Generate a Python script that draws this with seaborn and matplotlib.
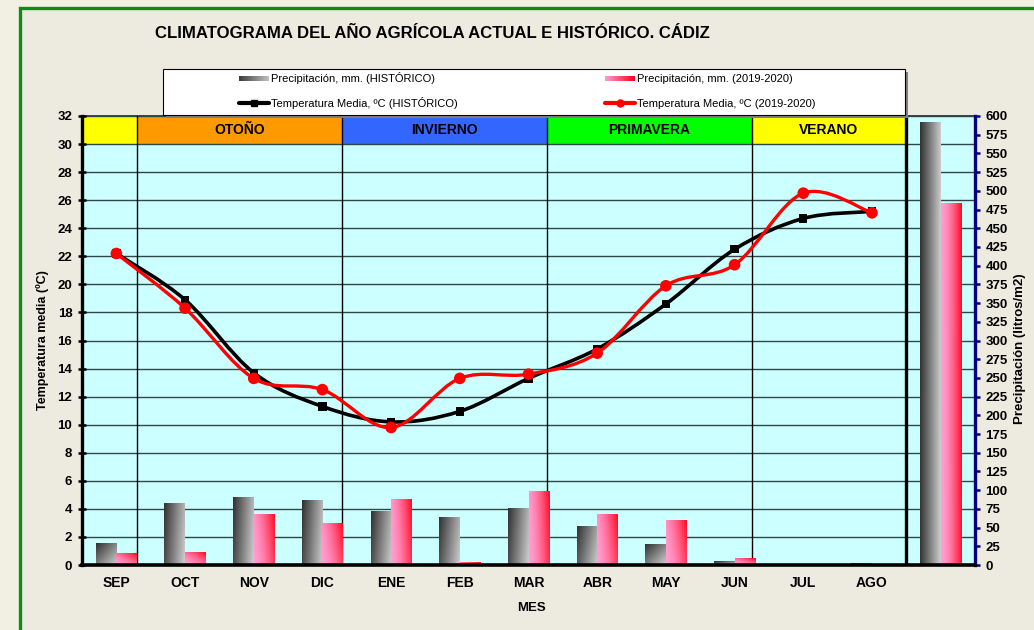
import matplotlib
matplotlib.use("agg")
import matplotlib.pyplot as plt
from matplotlib.patches import Rectangle, PathPatch
from matplotlib.path import Path
from matplotlib.lines import Line2D
from matplotlib.legend_handler import HandlerBase
import matplotlib.colors as mcolors
import numpy as np
import pandas as pd
import seaborn as sns

# ---- data ----
meses = ['SEP', 'OCT', 'NOV', 'DIC', 'ENE', 'FEB', 'MAR', 'ABR', 'MAY', 'JUN', 'JUL', 'AGO']
tempHist = [22.2, 18.9, 13.7, 11.3, 10.2, 10.95, 13.3, 15.4, 18.6, 22.5, 24.7, 25.2]
tempActual = [22.2, 18.3, 13.3, 12.5, 9.8, 13.3, 13.6, 15.1, 19.9, 21.4, 26.5, 25.1]
precHist = [29, 82, 90, 86, 72, 64, 76, 51, 28, 5, 0, 2.5]
precActual = [15, 17, 67, 56, 88, 3, 98, 67, 59, 9, 0, 0]
precHistTotal = 591
precActualTotal = 483
estaciones = ['', 'OTOÑO', 'INVIERNO', 'PRIMAVERA', 'VERANO']
coloresEstacion = ['#FFFF00', '#FF9900', '#3366FF', '#00FF00', '#FFFF00']
limitesEstacion = [-0.5, 0.3, 3.28, 6.27, 9.25, 11.5]

labHistBar = 'Precipitación, mm. (HISTÓRICO)'
labActBar = 'Precipitación, mm. (2019-2020)'
labHistLin = 'Temperatura Media, ºC (HISTÓRICO)'
labActLin = 'Temperatura Media, ºC (2019-2020)'

sns.set_style("white")
plt.rcParams['font.family'] = ['Liberation Sans', 'DejaVu Sans']
plt.rcParams['text.color'] = 'black'
plt.rcParams['axes.labelcolor'] = 'black'
plt.rcParams['xtick.color'] = 'black'
plt.rcParams['ytick.color'] = 'black'

W, H = 1034, 630
fig = plt.figure(figsize=(W / 100, H / 100), dpi=100)
fig.patch.set_facecolor('#F1F0E2')
fig.patches.append(Rectangle((19.5 / W, -0.1), 1.2, 1.1 - 8.5 / H + 0.0,
                             transform=fig.transFigure, facecolor='#EDEAE0',
                             edgecolor='#118A1B', lw=2.4, zorder=-5))

left, right, top, bottom = 82 / W, 975 / W, 1 - 116 / H, 1 - 565 / H
ax = fig.add_axes([left, bottom, right - left, top - bottom])
ax.set_facecolor('#CCFFFF')
ax2 = ax.twinx()
ax3 = ax.twinx()

# ---- background: grid, seasons ----
ax.set_ylim(0, 32)
ax.set_yticks(range(0, 33, 2))
ax.set_axisbelow(False)
ax.grid(axis='y', color='#2E4747', lw=1.0)
ax.grid(axis='x', visible=False)
for i, (nombre, col) in enumerate(zip(estaciones, coloresEstacion)):
    x0, x1 = limitesEstacion[i], limitesEstacion[i + 1]
    ax.add_patch(Rectangle((x0, 30), x1 - x0, 2, facecolor=col, edgecolor='none', zorder=1))
    if nombre:
        ax.text((x0 + x1) / 2, 31, nombre, ha='center', va='center',
                fontsize=10, fontweight='bold', zorder=3)
for xl in limitesEstacion[1:-1]:
    ax.axvline(xl, color='black', lw=1.0, zorder=3)
ax.axvline(11.5, color='black', lw=2.4, zorder=3)

# ---- precipitation bars ----
categorias = meses + ['TOTAL']
df = pd.DataFrame({
    'mes': categorias * 2,
    'serie': ['hist'] * 13 + ['act'] * 13,
    'prec': precHist + [precHistTotal] + precActual + [precActualTotal],
})
pal = {'hist': '#808080', 'act': '#FF6699'}
sns.barplot(data=df, x='mes', y='prec', hue='serie', order=categorias,
            hue_order=['hist', 'act'], palette=pal, width=0.6, dodge=True,
            legend=False, ax=ax2, saturation=1, edgecolor='none')
ax2.set_ylim(0, 600)
ax2.set_xlim(-0.5, 12.5)
fig.canvas.draw()

dark, light = np.array([0.20, 0.20, 0.20]), np.array([0.80, 0.80, 0.80])
pink, red = np.array([1.0, 0.62, 0.82]), np.array([1.0, 0.05, 0.15])
for p in list(ax2.patches):
    h = p.get_height()
    if h <= 0:
        p.set_visible(False)
        continue
    x0, w = p.get_x(), p.get_width()
    (px0, py0), (px1, py1) = ax2.transData.transform([(x0, 0), (x0 + w, h)])
    wpx, hpx = abs(px1 - px0), abs(py1 - py0)
    nx, ny = max(2, int(wpx)), max(2, int(hpx))
    wt = min(1.0, wpx / max(hpx, 1))
    xf = np.linspace(0, 1, nx)[None, :]
    yf = np.linspace(0, 1, ny)[:, None]  # 0 at top
    fc = mcolors.to_hex(p.get_facecolor())
    if fc.lower() == '#808080':
        s = (1 - 0.5 * wt) * (1 - xf) + 0.5 * wt * (1 - yf)
        img = light + s[..., None] * (dark - light)
    else:
        s = (1 - 0.5 * wt) * xf + 0.5 * wt * (1 - yf)
        s = np.clip(s, 0, 1) ** 1.6
        img = pink + s[..., None] * (red - pink)
    ax2.imshow(np.clip(img, 0, 1), extent=(x0, x0 + w, 0, h), origin='upper',
               aspect='auto', interpolation='bilinear', zorder=2)
    p.set_visible(False)
ax2.set_ylim(0, 600)
ax2.set_xlim(-0.5, 12.5)

# ---- temperature lines (smoothed like the spreadsheet) ----
def smoothPath(ys):
    pts = np.column_stack([np.arange(len(ys)), ys]).astype(float)
    ext = np.vstack([pts[0], pts, pts[-1]])
    verts, codes = [pts[0]], [Path.MOVETO]
    for i in range(len(pts) - 1):
        p0, p1, p2, p3 = ext[i], ext[i + 1], ext[i + 2], ext[i + 3]
        verts += [p1 + (p2 - p0) / 6, p2 - (p3 - p1) / 6, p2]
        codes += [Path.CURVE4] * 3
    return Path(verts, codes)

ax3.set_ylim(0, 32)
ax3.add_patch(PathPatch(smoothPath(tempHist), fill=False, edgecolor='black',
                        lw=2.6, zorder=3, capstyle='round', joinstyle='round'))
sns.scatterplot(x=np.arange(12), y=tempHist, marker='s', s=36, color='black',
                edgecolor='none', zorder=4, ax=ax3)
ax3.add_patch(PathPatch(smoothPath(tempActual), fill=False, edgecolor='#FF0000',
                        lw=2.4, zorder=5, capstyle='round', joinstyle='round'))
sns.scatterplot(x=np.arange(12), y=tempActual, marker='o', s=70, color='#FF0000',
                edgecolor='none', zorder=6, ax=ax3)
ax3.set_ylim(0, 32)
ax3.set_xlim(-0.5, 12.5)
ax3.yaxis.set_visible(False)
ax3.set_ylabel('')

# ---- axes styling ----
for a in (ax, ax2, ax3):
    for s in a.spines.values():
        s.set_visible(False)
ax.spines['left'].set_visible(True)
ax.spines['left'].set_linewidth(2.4)
ax.spines['left'].set_color('black')
ax.spines['top'].set_visible(True)
ax.spines['top'].set_linewidth(1.2)
ax.spines['top'].set_color('#222222')
ax3.spines['bottom'].set_visible(True)
ax3.spines['bottom'].set_linewidth(2.6)
ax3.spines['bottom'].set_color('black')
ax2.spines['right'].set_visible(True)
ax2.spines['right'].set_linewidth(2.4)
ax2.spines['right'].set_color('#000080')

ax.set_xlim(-0.5, 12.5)
ax.set_xticks(range(13))
ax.set_xticklabels(meses + [''], fontsize=10, fontweight='bold')
ax.set_xticks(np.arange(-0.5, 13, 1), minor=True)
ax.tick_params(axis='x', which='major', length=0, pad=8)
ax.tick_params(axis='x', which='minor', length=8, width=2.4, direction='inout', color='black')
ax.tick_params(axis='y', left=True, length=6, width=1.8, direction='inout', color='black', pad=4)
for t in ax.get_yticklabels():
    t.set_fontweight('bold')
    t.set_fontsize(9.5)

ax2.set_yticks(range(0, 601, 25))
ax2.set_ylabel('')
ax2.set_xlabel('')
ax2.tick_params(axis='y', right=True, length=3.5, width=1.8, direction='out', color='#000080', pad=4)
for t in ax2.get_yticklabels():
    t.set_fontweight('bold')
    t.set_fontsize(9.5)

ax.set_ylabel('Temperatura media (ºC)', fontsize=9, fontweight='bold')
ax.yaxis.set_label_coords((49 - 82) / 893, 0.5)
ax.set_xlabel('MES', fontsize=9.5, fontweight='bold')
ax.xaxis.set_label_coords(0.503, -(602 - 565) / 449)
ax2.set_ylabel('Precipitación (litros/m2)', fontsize=9.5, fontweight='bold')
ax2.yaxis.set_label_coords((1014 - 82) / 893, (565 - 349) / 449)

# ---- title ----
fig.text(432 / W, 1 - 33 / H, 'CLIMATOGRAMA DEL AÑO AGRÍCOLA ACTUAL E HISTÓRICO. CÁDIZ',
         ha='center', va='center', fontsize=12.1, fontweight='bold')

# ---- legend ----
fig.patches.append(Rectangle((166 / W, 1 - 118 / H), 742 / W, 46 / H, transform=fig.transFigure,
                             facecolor='#808080', edgecolor='none', zorder=1))
fig.patches.append(Rectangle((163 / W, 1 - 115 / H), 742 / W, 46 / H, transform=fig.transFigure,
                             facecolor='white', edgecolor='black', lw=0.8, zorder=2))


class GradHandler(HandlerBase):
    def __init__(self, c0, c1):
        super().__init__()
        self.c0, self.c1 = np.array(c0), np.array(c1)

    def create_artists(self, legend, orig_handle, xdescent, ydescent, width, height, fontsize, trans):
        n = 24
        hh = height * 0.6
        y0 = -ydescent + (height - hh) / 2
        arts = []
        for i in range(n):
            c = self.c0 + (i / (n - 1)) * (self.c1 - self.c0)
            arts.append(Rectangle((-xdescent + width * i / n, y0), width / n * 1.1, hh,
                                  facecolor=c, edgecolor='none', transform=trans))
        return arts


hBarHist = Rectangle((0, 0), 1, 1)
hBarAct = Rectangle((0, 0), 1, 1)
hLinHist = Line2D([], [], color='black', lw=3, marker='s', ms=5)
hLinAct = Line2D([], [], color='#FF0000', lw=3, marker='o', ms=5)
legOpts = dict(loc='upper left', frameon=False, fontsize=8, handlelength=2.7,
               handletextpad=0.15, borderpad=0.3, borderaxespad=0, numpoints=1)
leg1 = fig.legend([hBarHist, hLinHist], [labHistBar, labHistLin],
                  handler_map={hBarHist: GradHandler([0.25, 0.25, 0.25], [0.75, 0.75, 0.75])},
                  bbox_to_anchor=(236 / W, 1 - 69 / H), labelspacing=1.1, **legOpts)
leg2 = fig.legend([hBarAct, hLinAct], [labActBar, labActLin],
                  handler_map={hBarAct: GradHandler([1.0, 0.6, 0.8], [1.0, 0.0, 0.1])},
                  bbox_to_anchor=(602 / W, 1 - 71 / H), labelspacing=1.3, **legOpts)
leg1.set_zorder(5)
leg2.set_zorder(5)

fig.savefig('out.png', dpi=100, facecolor=fig.get_facecolor())
